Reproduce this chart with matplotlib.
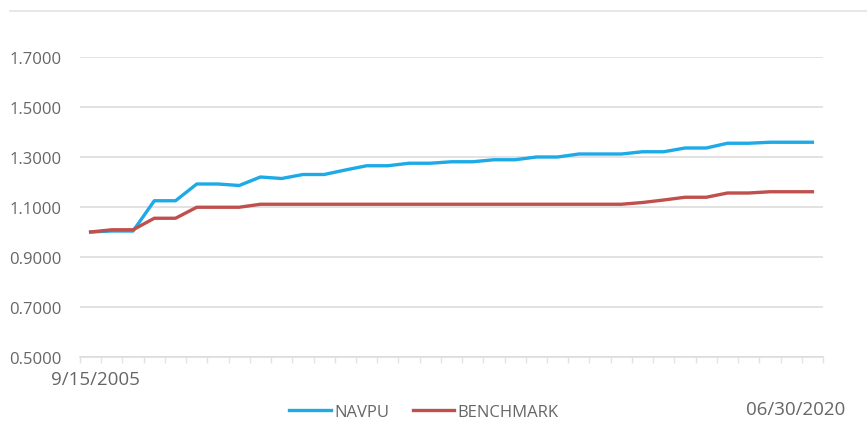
import matplotlib.pyplot as plt
from matplotlib.lines import Line2D
import numpy as np

# values (35 monthly-ish points)
navpu = [1.000, 1.004, 1.004, 1.125, 1.125, 1.192, 1.192, 1.186, 1.220, 1.214,
         1.230, 1.230, 1.248, 1.265, 1.265, 1.275, 1.275, 1.281, 1.281, 1.289,
         1.289, 1.300, 1.300, 1.312, 1.312, 1.312, 1.321, 1.321, 1.336, 1.336,
         1.355, 1.355, 1.359, 1.359, 1.359]
benchmark = [1.000, 1.009, 1.009, 1.055, 1.055, 1.099, 1.099, 1.099, 1.111, 1.111,
             1.111, 1.111, 1.111, 1.111, 1.111, 1.111, 1.111, 1.111, 1.111, 1.111,
             1.111, 1.111, 1.111, 1.111, 1.111, 1.111, 1.118, 1.128, 1.139, 1.139,
             1.156, 1.156, 1.161, 1.161, 1.161]
y_ticks = [0.5, 0.7, 0.9, 1.1, 1.3, 1.5, 1.7]
start_label = "9/15/2005"
end_label = "06/30/2020"

plt.rcParams['font.family'] = ['Open Sans', 'DejaVu Sans']
text_color = "#666666"

fig = plt.figure(figsize=(8.67, 4.35), dpi=100)
ax = fig.add_axes([80 / 867, 1 - 358 / 435, 743 / 867, 300 / 435])

x = np.arange(len(navpu))
ax.plot(x, navpu, color="#1DAAE6", lw=2.4, label="NAVPU", solid_joinstyle="round")
ax.plot(x, benchmark, color="#C0504D", lw=2.4, label="BENCHMARK", solid_joinstyle="round")

ax.set_xlim(-0.5, len(navpu) - 0.5)
ax.set_ylim(0.5, 1.7)
ax.set_yticks(y_ticks)
ax.set_yticklabels([f"{v:.4f}" for v in y_ticks], fontsize=12, color=text_color)
ax.tick_params(axis="y", length=0, pad=13)
ax.grid(axis="y", color="#DDDDDD", lw=1.2)
ax.set_axisbelow(True)

# category boundary ticks on x axis
ax.set_xticks(np.arange(-0.5, len(navpu), 1.0))
ax.set_xticklabels([])
ax.tick_params(axis="x", length=4, color="#E2E2E2", width=1)
for side in ["top", "right", "left"]:
    ax.spines[side].set_visible(False)
ax.spines["bottom"].set_color("#DDDDDD")
ax.spines["bottom"].set_linewidth(1.2)

fig.text(95 / 867, 1 - 380 / 435, start_label, ha="center", va="center",
         fontsize=13.5, color=text_color)
fig.text(796 / 867, 1 - 410 / 435, end_label, ha="center", va="center",
         fontsize=13.5, color=text_color)

# thin border line at the top of the picture
fig.add_artist(Line2D([10 / 867, 1], [1 - 12 / 435, 1 - 12 / 435],
                      color="#E3E3E3", lw=1.2, transform=fig.transFigure))

leg = fig.legend(loc="center", bbox_to_anchor=(424 / 867, 1 - 413 / 435), ncol=2,
                 frameon=False, fontsize=12, handlelength=2.5, handletextpad=0.2,
                 columnspacing=1.4)
for t in leg.get_texts():
    t.set_color(text_color)

plt.savefig("out.png", dpi=100)
